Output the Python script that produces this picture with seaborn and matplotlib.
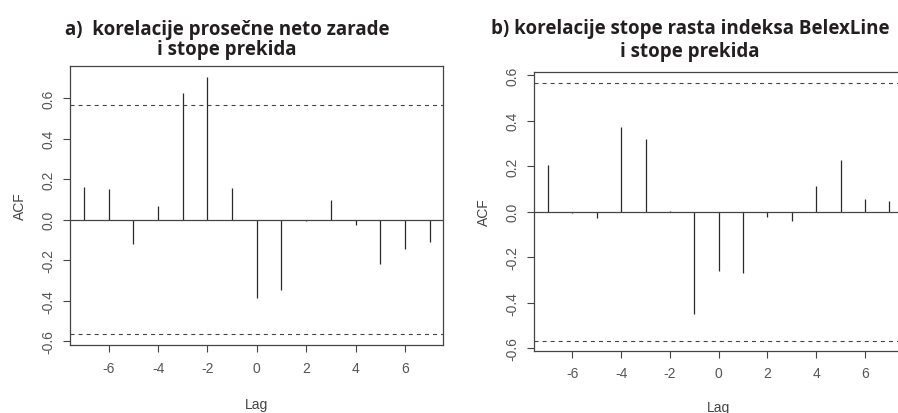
import numpy as np
import matplotlib
matplotlib.use("Agg")
import matplotlib.pyplot as plt
import seaborn as sns

lags = [-7, -6, -5, -4, -3, -2, -1, 0, 1, 2, 3, 4, 5, 6, 7]
acf_a = [0.161, 0.150, -0.120, 0.069, 0.624, 0.706, 0.158, -0.388, -0.349,
         -0.005, 0.097, -0.028, -0.217, -0.143, -0.112]
acf_b = [0.206, -0.005, -0.029, 0.371, 0.319, 0.005, -0.449, -0.259, -0.271,
         -0.025, -0.042, 0.113, 0.227, 0.056, 0.048]
ci = 0.566
title_a = "a)  korelacije prosečne neto zarade\ni stope prekida"
title_b = "b) korelacije stope rasta indeksa BelexLine\ni stope prekida"
xticks = [-6, -4, -2, 0, 2, 4, 6]
yticks = [-0.6, -0.4, -0.2, 0.0, 0.2, 0.4, 0.6]

sns.set_style("white")
plt.rcParams["font.family"] = ["Liberation Sans", "DejaVu Sans"]
plt.rcParams["lines.scale_dashes"] = False

fig = plt.figure(figsize=(8.98, 4.14), dpi=100)
ax1 = fig.add_axes([0.0783, 0.1635, 0.4154, 0.6754])
ax2 = fig.add_axes([0.595, 0.1498, 0.4106, 0.674])

def draw(ax, vals, ylim, title, tx, ty, lagpad, ls):
    ax.vlines(lags, 0, vals, color="#2a2a2a", linewidth=0.9)
    ax.axhline(0, color="#444444", linewidth=0.9)
    for s in (ci, -ci):
        ax.axhline(s, color="#444444", linewidth=0.8, linestyle=(0, (2.9, 2.9)))
    ax.set_xlim(-7.56, 7.56)
    ax.set_ylim(*ylim)
    ax.set_xticks(xticks)
    ax.set_xticklabels([f"{t}" for t in xticks])
    ax.set_yticks(yticks)
    ax.set_yticklabels([f"{t:.1f}" for t in yticks], rotation=90, va="center")
    ax.tick_params(axis="both", direction="out", length=5, width=0.8,
                   color="#444444", labelcolor="#555555", labelsize=10,
                   left=True, bottom=True)
    ax.tick_params(axis="x", pad=6)
    ax.tick_params(axis="y", pad=6)
    for sp in ax.spines.values():
        sp.set_color("#444444")
        sp.set_linewidth(0.9)
    ax.set_ylabel("ACF", color="#444444", fontsize=10, labelpad=10)
    ax.set_xlabel("Lag", color="#444444", fontsize=10, labelpad=lagpad)
    fig.text(tx, ty, title, ha="center", va="center", fontsize=13.5,
             fontweight="bold", family=["Open Sans", "DejaVu Sans"],
             color="#231f20", linespacing=ls)

draw(ax1, acf_a, (-0.62, 0.76), title_a, 227 / 898, 1 - 40 / 414, 16, 1.05)
draw(ax2, acf_b, (-0.612, 0.614), title_b, 690 / 898, 1 - 40.5 / 414, 14, 1.2)

fig.savefig("out.png", dpi=100)
